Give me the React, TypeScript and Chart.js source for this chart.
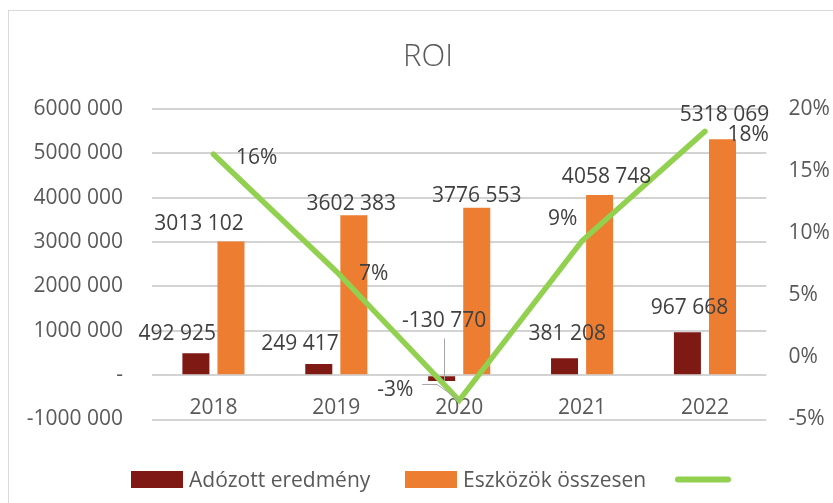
import React, { useEffect, useRef } from 'react';
import { Chart, registerables } from 'chart.js';

Chart.register(...registerables);

// ---- data ----
const chartTitle = 'ROI';
const years = ['2018', '2019', '2020', '2021', '2022'];
const profitName = 'Adózott eredmény';
const assetsName = 'Eszközök összesen';
const roiName = '';
const profit = [492925, 249417, -130770, 381208, 967668];
const assets = [3013102, 3602383, 3776553, 4058748, 5318069];
const roi = [0.1636, 0.0692, -0.0346, 0.0939, 0.182];
const leftMin = -1000000;
const leftMax = 6000000;
const leftStep = 1000000;
const rightMin = -0.05;
const rightMax = 0.2;
const rightStep = 0.05;

// ---- styles ----
const FONT_FAMILY = "'Open Sans', 'Noto Sans', sans-serif";
const FONT_SIZE = 21;
const CAP = FONT_SIZE * 0.714;
const TEXT = '#595959';
const LABEL = '#404040';
const GRID = '#d3d3d3';
const DARK_RED = '#7f1913';
const ORANGE = '#ed7d31';
const GREEN = '#92d050';

// label offsets (label centre relative to the mark end), pixels
const profitLabelOffsets = [[-18.7, -20.8], [-18.8, -21.8], [2.5, -61.5], [2.7, -25.8], [2, -25.6]];
const assetsLabelOffsets = [[-32, -19.4], [-2.5, -12.7], [0, -12.9], [7, -19.9], [2, -25.7]];
const roiLabelOffsets = [[43.2, 2.5], [37.4, 1], [-64, -12], [-19.3, -23.3], [43.2, 2.1]];
// legend item left edges (canvas px)
const legendItemX = [122, 396, 666];

function fmtNum(v: number): string {
  if (v === 0) return '-';
  const sign = v < 0 ? '-' : '';
  const a = Math.abs(Math.round(v));
  if (a < 1000) return sign + a;
  return sign + Math.floor(a / 1000) + ' ' + String(a % 1000).padStart(3, '0');
}
function fmtPct(v: number): string {
  return Math.round(v * 100) + '%';
}

const labelPlugin = {
  id: 'valueLabels',
  afterDatasetsDraw(chart: any) {
    const ctx = chart.ctx as CanvasRenderingContext2D;
    ctx.save();
    const sets: [number, number[], number[][], (v: number) => string][] = [
      [0, profit, profitLabelOffsets, fmtNum],
      [1, assets, assetsLabelOffsets, fmtNum],
      [2, roi, roiLabelOffsets, fmtPct],
    ];
    // leader lines
    ctx.strokeStyle = '#a6a6a6';
    ctx.lineWidth = 1;
    {
      const el = chart.getDatasetMeta(0).data[2];
      const lx = Math.round(el.x + profitLabelOffsets[2][0]) + 0.5;
      const ly = el.y + profitLabelOffsets[2][1];
      ctx.beginPath();
      ctx.moveTo(lx, ly + 19);
      ctx.lineTo(lx, el.y);
      ctx.stroke();
    }
    {
      const el = chart.getDatasetMeta(2).data[2];
      const lx = el.x + roiLabelOffsets[2][0];
      const ly = Math.round(el.y + roiLabelOffsets[2][1] - 4) + 0.5;
      ctx.beginPath();
      ctx.moveTo(lx + 27, ly);
      ctx.lineTo(lx + 42, ly);
      ctx.lineTo(el.x, el.y);
      ctx.stroke();
    }
    ctx.font = `${FONT_SIZE}px ${FONT_FAMILY}`;
    ctx.fillStyle = LABEL;
    ctx.textAlign = 'center';
    ctx.textBaseline = 'alphabetic';
    for (const [idx, vals, offs, fmt] of sets) {
      const meta = chart.getDatasetMeta(idx);
      meta.data.forEach((el: any, i: number) => {
        const lx = el.x + offs[i][0];
        const ly = el.y + offs[i][1];
        ctx.fillText(fmt(vals[i]), lx, ly + CAP / 2);
      });
    }
    ctx.restore();
  },
};

const decorPlugin = {
  id: 'decor',
  afterDraw(chart: any) {
    const ctx = chart.ctx as CanvasRenderingContext2D;
    ctx.save();
    // title
    ctx.font = `300 31px ${FONT_FAMILY}`;
    ctx.fillStyle = TEXT;
    ctx.textAlign = 'center';
    ctx.textBaseline = 'alphabetic';
    ctx.fillText(chartTitle, chart.width / 2, 55);
    // legend
    ctx.font = `${FONT_SIZE}px ${FONT_FAMILY}`;
    ctx.textAlign = 'left';
    const cy = 468.5;
    const items: [string, string, string][] = [
      ['box', DARK_RED, profitName],
      ['box', ORANGE, assetsName],
      ['line', GREEN, roiName],
    ];
    items.forEach(([kind, color, text], i) => {
      const x = legendItemX[i];
      if (kind === 'box') {
        ctx.fillStyle = color;
        ctx.fillRect(x, cy - 8.5, 52, 17);
      } else {
        ctx.strokeStyle = color;
        ctx.lineWidth = 6;
        ctx.lineCap = 'round';
        ctx.beginPath();
        ctx.moveTo(x + 3, cy);
        ctx.lineTo(x + 53, cy);
        ctx.stroke();
      }
      if (text) {
        ctx.fillStyle = TEXT;
        ctx.fillText(text, x + 58, cy + CAP / 2);
      }
    });
    ctx.restore();
  },
};

export default function App() {
  const ref = useRef<HTMLCanvasElement>(null);
  useEffect(() => {
    const tickFont = { family: FONT_FAMILY, size: FONT_SIZE };
    const chart = new Chart(ref.current as HTMLCanvasElement, {
      type: 'bar',
      data: {
        labels: years,
        datasets: [
          {
            type: 'bar',
            label: profitName,
            data: profit,
            backgroundColor: DARK_RED,
            yAxisID: 'y',
            order: 1,
            categoryPercentage: 0.571,
            barPercentage: 0.77,
          },
          {
            type: 'bar',
            label: assetsName,
            data: assets,
            backgroundColor: ORANGE,
            yAxisID: 'y',
            order: 1,
            categoryPercentage: 0.571,
            barPercentage: 0.77,
          },
          {
            type: 'line',
            label: 'ROI',
            data: roi,
            borderColor: GREEN,
            backgroundColor: GREEN,
            borderWidth: 5.5,
            pointRadius: 0,
            tension: 0,
            borderCapStyle: 'round',
            yAxisID: 'y1',
            order: 0,
          } as any,
        ],
      },
      options: {
        responsive: false,
        animation: false,
        events: [],
        layout: { padding: { left: 0, right: 0, top: 98, bottom: 83.5 } },
        plugins: {
          legend: { display: false },
          title: { display: false },
          tooltip: { enabled: false },
        },
        scales: {
          x: {
            position: { y: 0 } as any,
            grid: { display: false, drawTicks: false },
            border: { display: false },
            ticks: { color: TEXT, font: tickFont, padding: 20 },
          },
          y: {
            position: 'left',
            min: leftMin,
            max: leftMax,
            grid: { display: true, drawOnChartArea: true, color: GRID, lineWidth: 2, drawTicks: false },
            border: { display: false },
            ticks: { stepSize: leftStep, color: TEXT, font: tickFont, padding: 29, callback: (v: any) => fmtNum(Number(v)) },
            afterFit: (s: any) => { s.width = 143; },
          },
          y1: {
            position: 'right',
            min: rightMin,
            max: rightMax,
            grid: { display: false, drawTicks: false },
            border: { display: false },
            ticks: { stepSize: rightStep, color: TEXT, font: tickFont, padding: 22, callback: (v: any) => fmtPct(Number(v)) },
            afterFit: (s: any) => { s.width = 80.6; },
          },
        },
      },
      plugins: [labelPlugin, decorPlugin],
    });
    return () => chart.destroy();
  }, []);
  return (
    <div style={{ position: 'absolute', left: 8, top: 10, width: 825, height: 493, overflow: 'hidden', background: '#fff' }}>
      <div style={{ borderLeft: '1px solid #d9d9d9', borderTop: '1px solid #d9d9d9', width: 838, height: 492 }}>
        <canvas ref={ref} width={838} height={492} style={{ display: 'block' }} />
      </div>
    </div>
  );
}
